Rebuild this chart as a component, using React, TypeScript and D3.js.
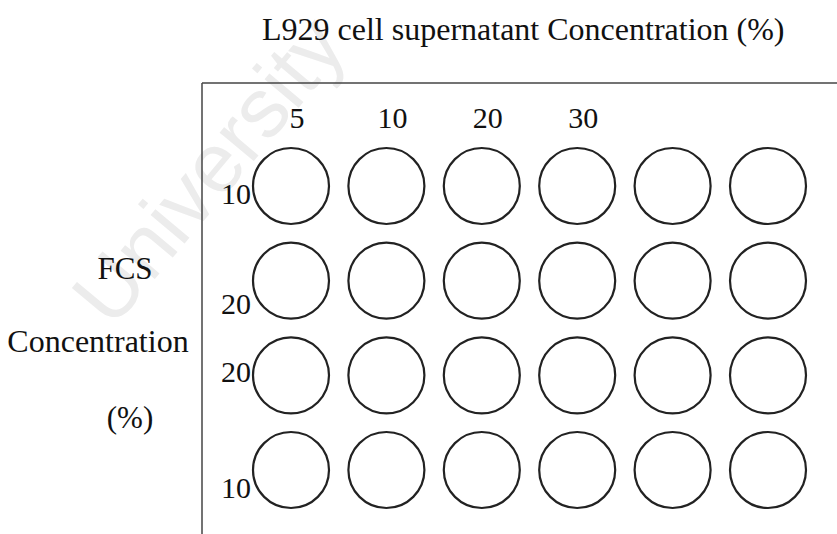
import React from "react";
import * as d3 from "d3";

const title = "L929 cell supernatant Concentration (%)";
const columnLabels = ["5", "10", "20", "30"];
const rowLabels = ["10", "20", "20", "10"];
const wellColumns = [0, 1, 2, 3, 4, 5];
const wellRows = [0, 1, 2, 3];
const sideLabel = ["FCS", "Concentration", "(%)"];
const watermark = "University";

const W = 837;
const H = 534;
const rowLabelDy = [18, 33, 7, 28];

export default function App() {
  const x = d3.scalePoint<number>().domain(wellColumns).range([291, 768]);
  const y = d3.scalePoint<number>().domain(wellRows).range([186, 470]);
  const r = 38;
  const serif = "'Liberation Serif', 'Times New Roman', serif";
  return (
    <svg
      width={W}
      height={H}
      style={{ position: "absolute", left: 0, top: 0, background: "#fff" }}
      fontFamily={serif}
    >
      <text
        x={112}
        y={330}
        transform="rotate(-50 112 330)"
        fontFamily="'Liberation Sans', Arial, sans-serif"
        fontSize={84}
        fill="#ececec"
      >
        {watermark}
      </text>
      <text x={262} y={40} fontSize={32} fill="#111">
        {title}
      </text>
      <line x1={202} y1={83} x2={W} y2={83} stroke="#444" strokeWidth={1.5} />
      <line x1={202} y1={83} x2={202} y2={H} stroke="#444" strokeWidth={1.5} />
      {columnLabels.map((c, i) => (
        <text key={"c" + i} x={(x(i) as number) + 6} y={128} fontSize={30} textAnchor="middle" fill="#111">
          {c}
        </text>
      ))}
      {rowLabels.map((l, i) => (
        <text key={"r" + i} x={251} y={(y(i) as number) + rowLabelDy[i]} fontSize={30} textAnchor="end" fill="#111">
          {l}
        </text>
      ))}
      {wellRows.map((ri) =>
        wellColumns.map((ci) => (
          <circle
            key={ri + "-" + ci}
            cx={x(ci) as number}
            cy={y(ri) as number}
            r={r}
            fill="none"
            stroke="#222"
            strokeWidth={2.2}
          />
        ))
      )}
      <text x={125} y={279} fontSize={31} textAnchor="middle" fill="#111">
        {sideLabel[0]}
      </text>
      <text x={98} y={352} fontSize={32} textAnchor="middle" fill="#111">
        {sideLabel[1]}
      </text>
      <text x={130} y={428} fontSize={31} textAnchor="middle" fill="#111">
        {sideLabel[2]}
      </text>
    </svg>
  );
}
